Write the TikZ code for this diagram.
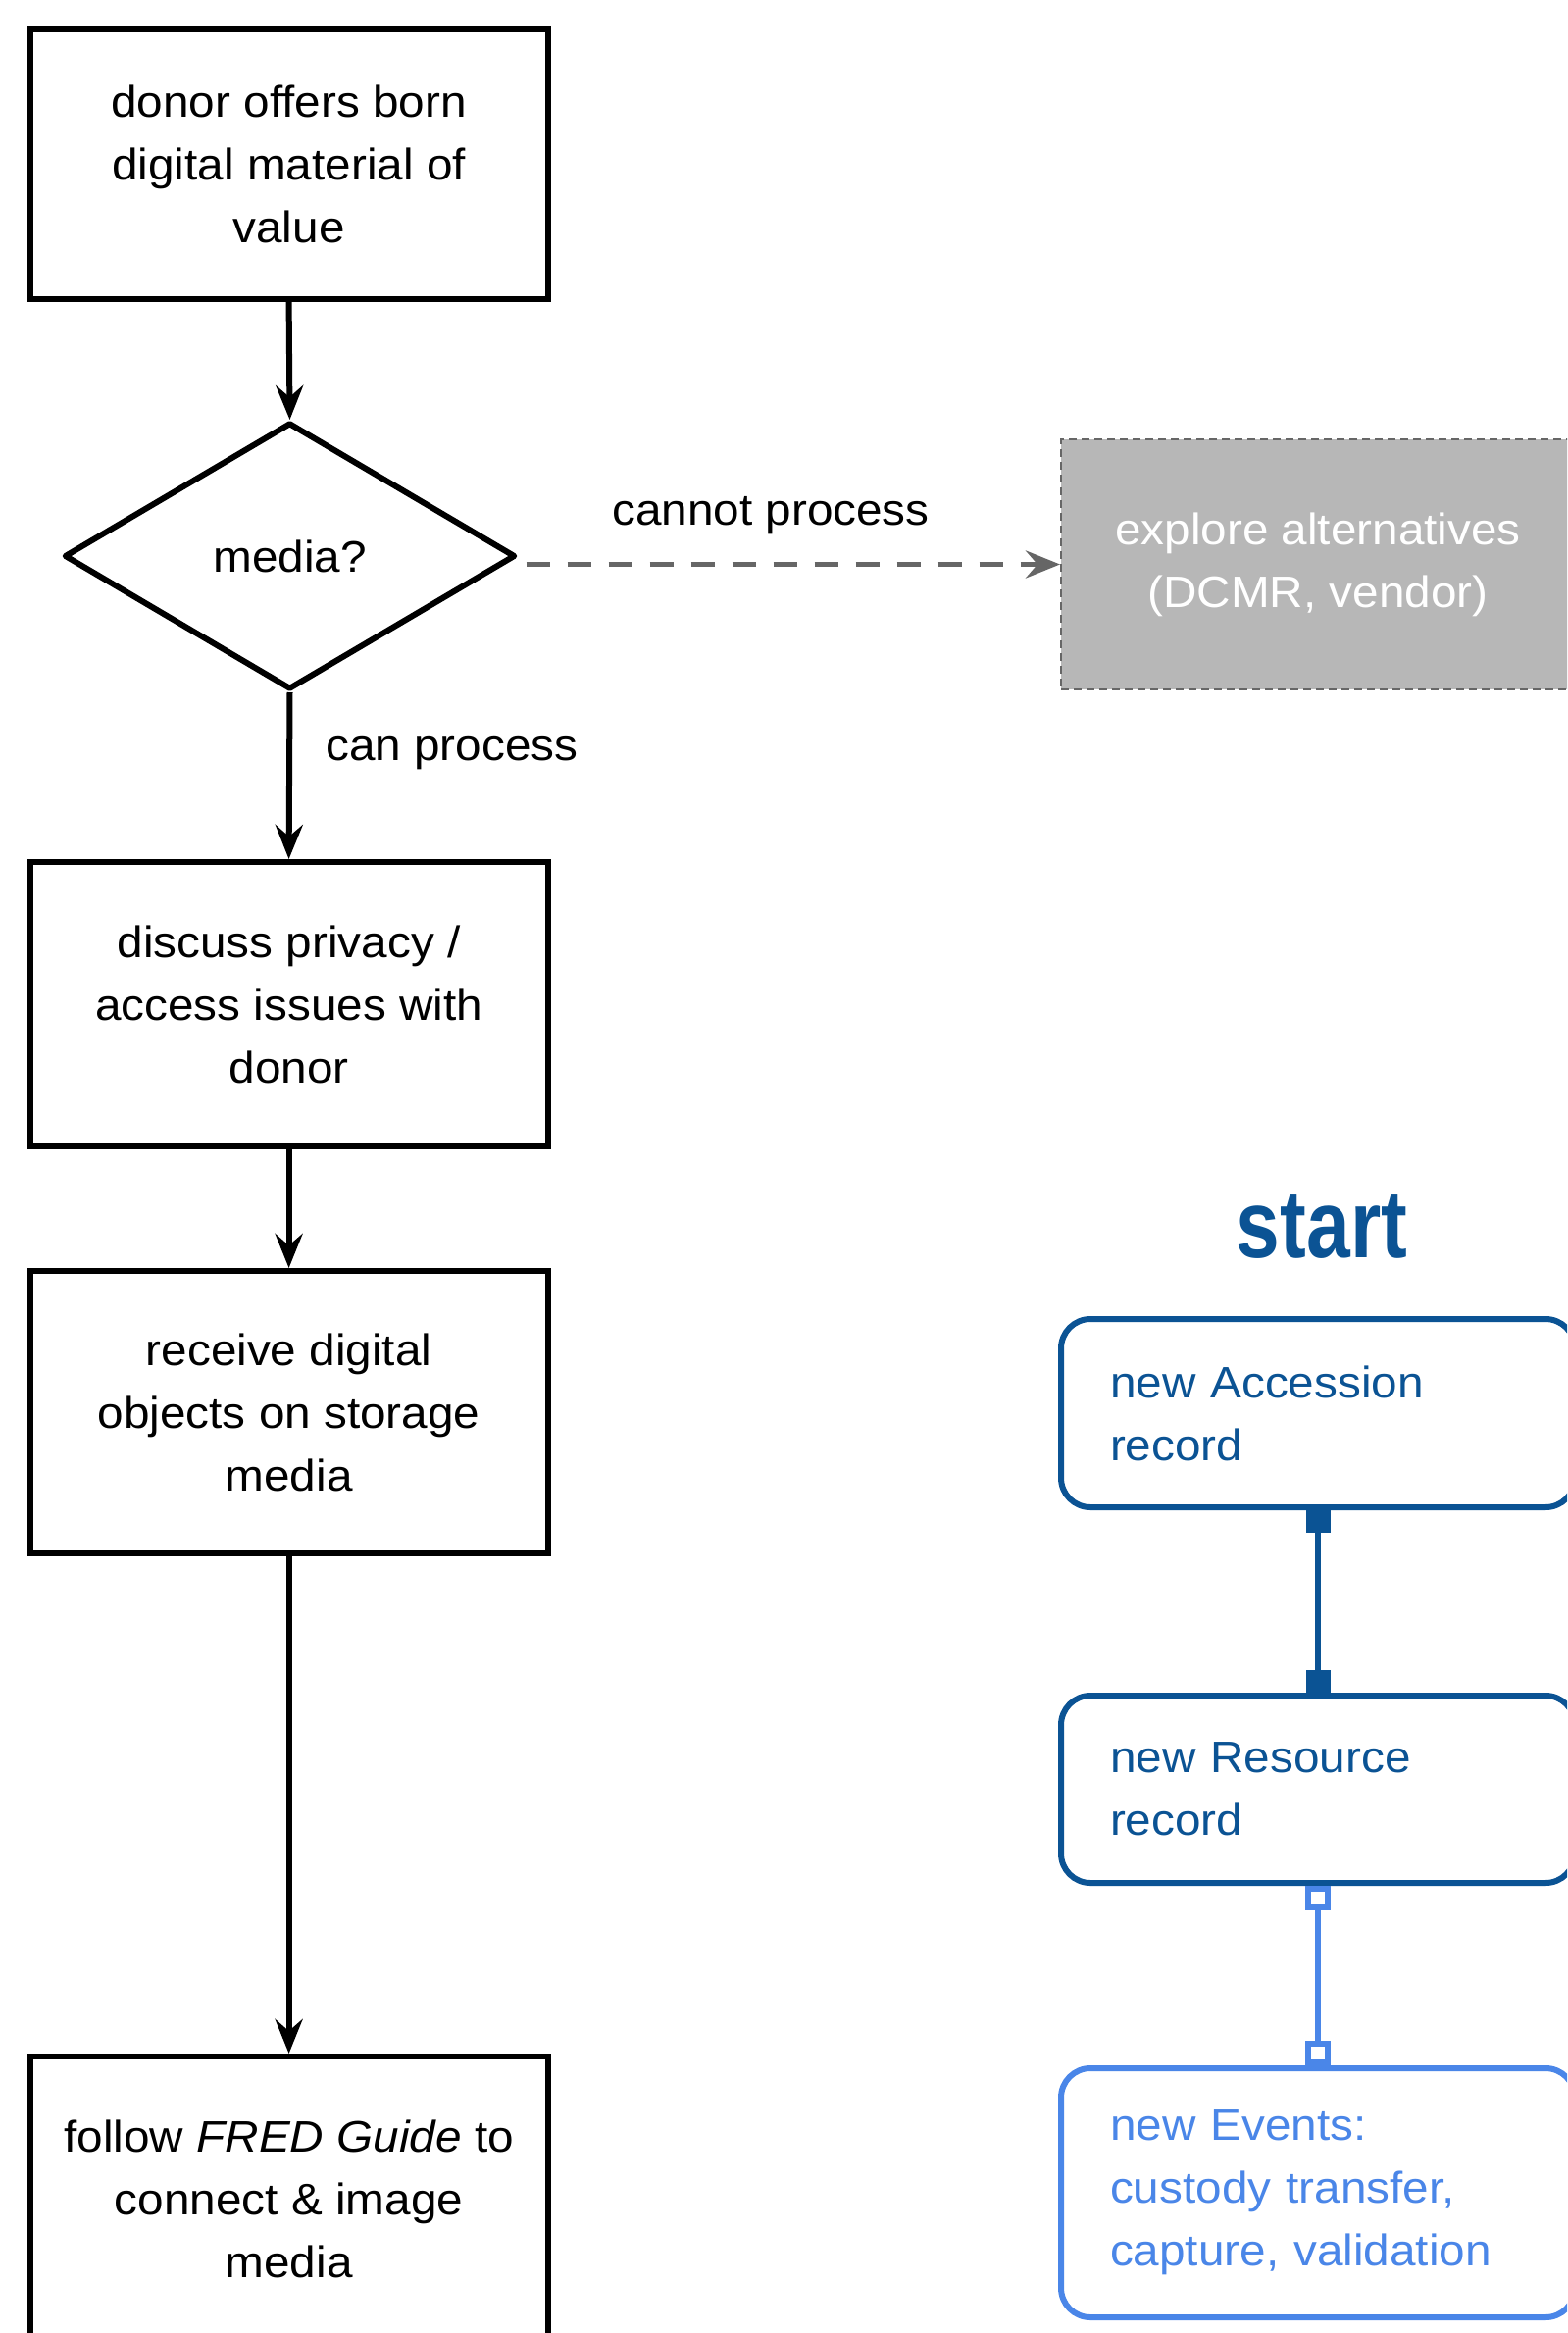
\documentclass[tikz,border=0pt]{standalone}
\usepackage{fontspec}
\setmainfont[FakeStretch=1.06]{Liberation Sans}
\newfontfamily\startfont[FakeStretch=0.82]{Liberation Sans}
\usetikzlibrary{arrows.meta,shapes.geometric,calc}
\definecolor{dblue}{HTML}{0B5394}
\definecolor{lblue}{HTML}{4A86E8}
\definecolor{dgrey}{HTML}{666666}
\definecolor{lgrey}{HTML}{B7B7B7}
\tikzset{
  bodytext/.style={font=\fontsize{45}{64}\selectfont},
  flowbox/.style={bodytext, draw, line width=6pt, minimum width=528pt, align=center, inner sep=0pt},
  decision/.style={bodytext, diamond, draw, line width=6pt, line join=round, minimum width=460pt, minimum height=272pt, inner sep=0pt},
  altbox/.style={bodytext, draw=dgrey, fill=lgrey, line width=2pt, dash pattern=on 8pt off 5pt, text=white, minimum width=524pt, minimum height=255pt, align=center, inner sep=0pt},
  recbox/.style={bodytext, draw, rounded corners=30pt, line width=6pt, text width=424pt, inner xsep=50pt, inner ysep=0pt, align=left},
  lbl/.style={bodytext, inner sep=0pt},
  flowarrow/.style={line width=6pt, -{Stealth[length=35pt,width=28pt,inset=12pt]}},
}
\begin{document}
\begin{tikzpicture}[x=1pt,y=-1pt]
\clip (0,0) rectangle (1598,2379);
\useasboundingbox (0,0) rectangle (1598,2379);
\fill[white] (0,0) rectangle (1598,2379);

% left column
\node[flowbox, minimum height=275pt] (b1) at (294.6,167.5) {donor offers born\\digital material of\\value};
\node[decision] (dia) at (295.5,567) {media?};
\node[flowbox, minimum height=290pt] (b2) at (294.6,1024) {discuss privacy /\\access issues with\\donor};
\node[flowbox, minimum height=288pt] (b3) at (294.6,1440) {receive digital\\objects on storage\\media};
\node[flowbox, minimum height=290pt] (b4) at (294.6,2242) {follow \textit{FRED Guide} to\\connect \& image\\media};

% alternative
\node[altbox] (alt) at (1344,575.5) {explore alternatives\\(DCMR, vendor)};

% labels
\node[lbl, anchor=base] (cannot) at (786,535) {cannot process};
\node[lbl, anchor=base west] (can) at (332,775) {can process};

% right column
\node[anchor=base, inner sep=0pt, text=dblue, font=\startfont\bfseries\fontsize{98}{100}\selectfont] (start) at (1348,1282) {start};
\node[recbox, draw=dblue, text=dblue, minimum height=192pt] (acc) at (1344,1441) {new Accession\\record};
\node[recbox, draw=dblue, text=dblue, minimum height=191pt] (res) at (1344,1824.5) {new Resource\\record};
\node[recbox, draw=lblue, text=lblue, minimum height=254pt] (ev) at (1344,2236) {new Events:\\custody transfer,\\capture, validation};

% connectors
\draw[flowarrow] (b1.south) -- (dia.north);
\draw[flowarrow] (dia.south) -- (b2.north);
\draw[flowarrow] (b2.south) -- (b3.north);
\draw[flowarrow] (b3.south) -- (b4.north);
\draw[dgrey, line width=5.5pt, dash pattern=on 24pt off 18pt, -{Stealth[length=35pt,width=28pt,inset=12pt]}] ($(dia.east |- alt.west)+(8,0)$) -- (alt.west);
\draw[dblue, line width=6pt, {Square[length=23pt,width=25pt]}-{Square[length=23pt,width=25pt]}] (acc.south) -- (res.north);
\draw[lblue, line width=6pt, {Square[open,length=25pt,width=26pt,fill=white]}-{Square[open,length=25pt,width=26pt,fill=white]}] (res.south) -- (ev.north);
\end{tikzpicture}
\end{document}
